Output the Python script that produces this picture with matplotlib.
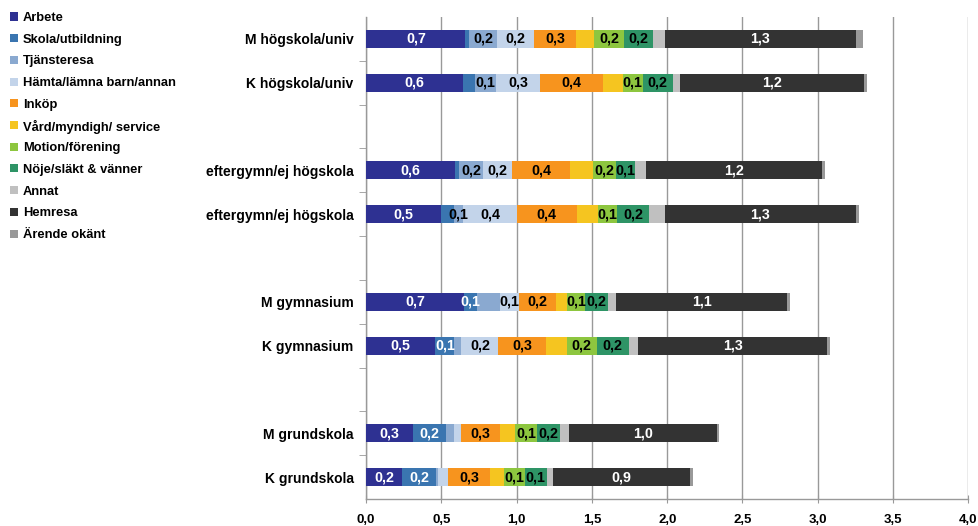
import matplotlib
matplotlib.use("Agg")
import matplotlib.pyplot as plt
from matplotlib.patches import Rectangle
import numpy as np

plt.rcParams['font.family'] = ['Liberation Sans', 'DejaVu Sans']

groups = ["M högskola/univ", "K högskola/univ", "eftergymn/ej högskola", "eftergymn/ej högskola",
          "M gymnasium", "K gymnasium", "M grundskola", "K grundskola"]
slots = [0, 1, 3, 4, 6, 7, 9, 10]

categories = ["Arbete", "Skola/utbildning", "Tjänsteresa", "Hämta/lämna barn/annan", "Inköp",
              "Vård/myndigh/ service", "Motion/förening", "Nöje/släkt & vänner", "Annat",
              "Hemresa", "Ärende okänt"]

arbete  = [0.66, 0.645, 0.59, 0.495, 0.65, 0.46, 0.31, 0.24]
skola   = [0.025, 0.08, 0.027, 0.09, 0.087, 0.126, 0.22, 0.226]
tjanst  = [0.187, 0.14, 0.16, 0.06, 0.153, 0.047, 0.053, 0.013]
hamta   = [0.245, 0.293, 0.193, 0.355, 0.126, 0.246, 0.047, 0.067]
inkop   = [0.28, 0.413, 0.386, 0.40, 0.246, 0.313, 0.26, 0.28]
vard    = [0.12, 0.133, 0.153, 0.14, 0.073, 0.14, 0.10, 0.087]
motion  = [0.193, 0.133, 0.153, 0.127, 0.12, 0.20, 0.146, 0.14]
noje    = [0.193, 0.20, 0.126, 0.213, 0.153, 0.213, 0.153, 0.146]
annat   = [0.08, 0.047, 0.073, 0.107, 0.053, 0.06, 0.06, 0.04]
hemresa = [1.271, 1.225, 1.165, 1.265, 1.138, 1.258, 0.985, 0.913]
okant   = [0.044, 0.02, 0.02, 0.02, 0.02, 0.02, 0.013, 0.02]
series = [arbete, skola, tjanst, hamta, inkop, vard, motion, noje, annat, hemresa, okant]

# which segments carry a data label in the original
lab_arbete  = [1, 1, 1, 1, 1, 1, 1, 1]
lab_skola   = [0, 0, 0, 0, 1, 1, 1, 1]
lab_tjanst  = [1, 1, 1, 1, 0, 0, 0, 0]
lab_hamta   = [1, 1, 1, 1, 1, 1, 0, 0]
lab_inkop   = [1, 1, 1, 1, 1, 1, 1, 1]
lab_vard    = [0, 0, 0, 0, 0, 0, 0, 0]
lab_motion  = [1, 1, 1, 1, 1, 1, 1, 1]
lab_noje    = [1, 1, 1, 1, 1, 1, 1, 1]
lab_annat   = [0, 0, 0, 0, 0, 0, 0, 0]
lab_hemresa = [1, 1, 1, 1, 1, 1, 1, 1]
lab_okant   = [0, 0, 0, 0, 0, 0, 0, 0]
labelmask = [lab_arbete, lab_skola, lab_tjanst, lab_hamta, lab_inkop, lab_vard, lab_motion,
             lab_noje, lab_annat, lab_hemresa, lab_okant]

colors = ["#2E3192", "#3A75B0", "#8AA9D0", "#C3D4EA", "#F7941E", "#F5C520",
          "#8DC63F", "#2E9466", "#C0C0C0", "#333333", "#999999"]
text_colors = ["white", "white", "black", "black", "black", "black",
               "black", "black", "black", "white", "black"]

xticks = [0.0, 0.5, 1.0, 1.5, 2.0, 2.5, 3.0, 3.5, 4.0]

W, H = 979, 526
fig = plt.figure(figsize=(W / 100, H / 100), dpi=100)
ax = fig.add_axes([0.374, 0.0513, 0.615, 0.9164])

left = np.zeros(len(groups))
for vals, col, tcol, mask in zip(series, colors, text_colors, labelmask):
    vals = np.array(vals)
    ax.barh(slots, vals, left=left, height=0.41, color=col, edgecolor='none', zorder=3)
    for y, l, v, m in zip(slots, left, vals, mask):
        if m:
            ax.text(l + v / 2, y, f"{v:.1f}".replace('.', ','), ha='center', va='center',
                    color=tcol, fontsize=10.3, fontweight='bold', zorder=4)
    left += vals

ax.set_xlim(0, 4.0)
ax.set_ylim(10.5, -0.5)
ax.set_xticks(xticks)
ax.set_xticklabels([f"{t:.1f}".replace('.', ',') for t in xticks], fontsize=9.5, fontweight='bold')
ax.xaxis.grid(True, color='#999999', linewidth=1.0, zorder=0)
ax.tick_params(axis='x', direction='inout', length=6, color='#999999', pad=8)

ax.set_yticks(slots)
ax.set_yticklabels(groups, fontsize=10, fontweight='bold')
ax.tick_params(axis='y', length=0, pad=9)
ax.set_yticks(np.arange(0.5, 10.5, 1.0), minor=True)
ax.tick_params(axis='y', which='minor', length=5, color='#999999', direction='out')

for s in ['top', 'right']:
    ax.spines[s].set_visible(False)
for s in ['left', 'bottom']:
    ax.spines[s].set_color('#999999')
    ax.spines[s].set_linewidth(1.0)

# legend, drawn row by row at fixed spacing
for i, (name, col) in enumerate(zip(categories, colors)):
    yc = 16.5 + i * 21.7
    fig.add_artist(Rectangle((10 / W, 1 - (yc + 4) / H), 8 / W, 8 / H,
                             transform=fig.transFigure, facecolor=col, edgecolor='none'))
    fig.text(23 / W, 1 - yc / H, name, ha='left', va='center_baseline',
             fontsize=9.3, fontweight='bold', color='black')

fig.savefig("out.png", dpi=100)
